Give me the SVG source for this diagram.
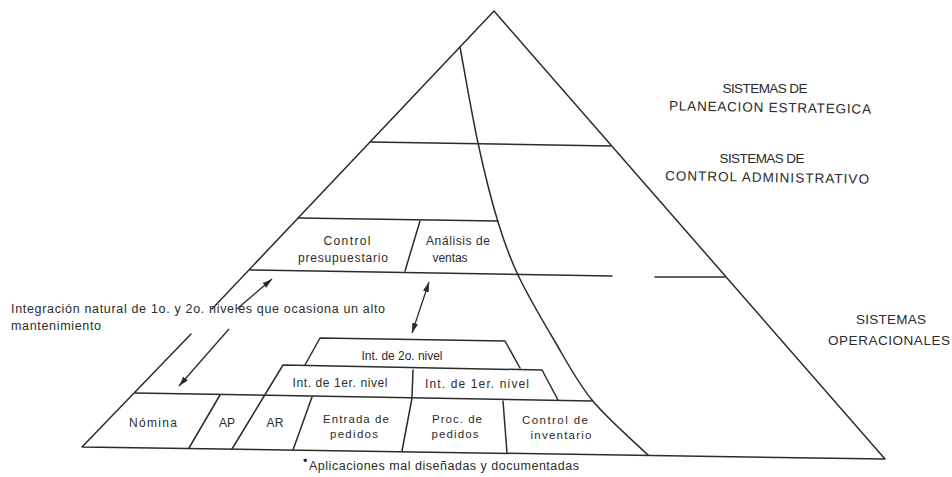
<svg xmlns="http://www.w3.org/2000/svg" width="952" height="477" viewBox="0 0 952 477">
  <defs>
    <style>
      .ln{fill:none;stroke:#2b2b2b;stroke-width:1.5;stroke-linejoin:round;stroke-linecap:round}
      .ar{fill:none;stroke:#2b2b2b;stroke-width:1.3}
      .t{font-family:"Liberation Sans",Arial,sans-serif;font-size:12px;fill:#2b2b2b;text-anchor:middle}
      .t2{font-family:"Liberation Sans",Arial,sans-serif;font-size:11.5px;fill:#2b2b2b;text-anchor:middle}
      .ts{font-family:"Liberation Sans",Arial,sans-serif;font-size:12.5px;fill:#2b2b2b;text-anchor:start}
      .cap{font-family:"Liberation Sans",Arial,sans-serif;font-size:13.5px;fill:#2b2b2b;text-anchor:middle}
    </style>
    <marker id="head" viewBox="0 0 10 6" refX="10" refY="3" markerWidth="10" markerHeight="6" markerUnits="userSpaceOnUse" orient="auto-start-reverse">
      <path d="M0,0 L10,3 L0,6 z" fill="#2b2b2b"/>
    </marker>
  </defs>
  <rect width="952" height="477" fill="#ffffff"/>

  <!-- pyramid frame: outline, level lines and the curved split -->
  <g id="pyramid">
    <path class="ln" d="M212,309 L494,11 L885,459 L82,447 L191,334"/>
    <path class="ln" d="M371,142 L611,146"/>
    <path class="ln" d="M298,218 L498,221"/>
    <path class="ln" d="M250,270 L612,276 M655,277 L725,277"/>
    <path class="ln" d="M460,47 C463,63 471.7,113.8 478,143 C484.3,172.2 491.3,200 498,222 C504.7,244 508.7,255.3 518,275 C527.3,294.7 541.7,319.2 554,340 C566.3,360.8 576.3,380.8 592,400 C607.7,419.2 638.7,445.8 648,455"/>
  </g>

  <!-- administrative control boxes -->
  <g id="control-presupuestario">
    <text class="t" x="347" y="245" textLength="47">Control</text>
    <text class="t" x="343" y="262" textLength="90">presupuestario</text>
  </g>
  <g id="analisis-ventas">
    <path class="ln" d="M420,221 L405,271"/>
    <text class="t" x="458" y="245" textLength="64">Análisis de</text>
    <text class="t" x="450" y="262" textLength="35">ventas</text>
  </g>

  <!-- interface layers -->
  <g id="int-2o">
    <path class="ln" d="M305,365 L320,338 L505,341 L520,368"/>
    <text class="t" x="402" y="360" textLength="81">Int. de 2o. nivel</text>
  </g>
  <g id="int-1er-a">
    <path class="ln" d="M232,449 L283,365 L542,370 L558,400"/>
    <text class="t" x="340" y="387" textLength="95">Int. de 1er. nivel</text>
  </g>
  <g id="int-1er-b">
    <path class="ln" d="M413,370 L412,397"/>
    <text class="t" x="477" y="388" textLength="104">Int. de 1er. nivel</text>
  </g>

  <!-- operational applications -->
  <g id="aplicaciones">
    <path class="ln" d="M135,393 L592,401"/>
  </g>
  <g id="nomina">
    <path class="ln" d="M220,395 L189,448"/>
    <text class="t" x="153" y="427" textLength="48">Nómina</text>
  </g>
  <g id="ap">
    <text class="t" x="227" y="427" textLength="16">AP</text>
  </g>
  <g id="ar">
    <path class="ln" d="M312,397 L293,450"/>
    <text class="t" x="275" y="427" textLength="17">AR</text>
  </g>
  <g id="entrada-pedidos">
    <path class="ln" d="M412,398 L402,451"/>
    <text class="t2" x="356" y="423" textLength="66">Entrada de</text>
    <text class="t2" x="354" y="437.5" textLength="48">pedidos</text>
  </g>
  <g id="proc-pedidos">
    <path class="ln" d="M503,401 L507,453"/>
    <text class="t2" x="457" y="423" textLength="50">Proc. de</text>
    <text class="t2" x="455" y="437.5" textLength="47">pedidos</text>
  </g>
  <g id="control-inventario">
    <text class="t2" x="555" y="424" textLength="66">Control de</text>
    <text class="t2" x="561" y="438.5" textLength="61">inventario</text>
  </g>

  <!-- notes -->
  <g id="nota-integracion">
    <text class="ts" x="11" y="313" textLength="374">Integración natural de 1o. y 2o. niveles que ocasiona un alto</text>
    <text class="ts" x="11" y="330" textLength="90">mantenimiento</text>
  </g>
  <g id="nota-aplicaciones">
    <text class="ts" x="303" y="465" font-size="7">•</text>
    <text class="ts" x="309" y="470" font-size="12" textLength="270">Aplicaciones mal diseñadas y documentadas</text>
  </g>

  <!-- level labels -->
  <g id="nivel-estrategico">
    <text class="cap" x="765" y="93" textLength="85">SISTEMAS DE</text>
    <text class="cap" x="770" y="112" textLength="202" transform="rotate(1 770 108)">PLANEACION ESTRATEGICA</text>
  </g>
  <g id="nivel-administrativo">
    <text class="cap" x="762" y="163" textLength="85">SISTEMAS DE</text>
    <text class="cap" x="767" y="182" textLength="204" transform="rotate(1 767 178)">CONTROL ADMINISTRATIVO</text>
  </g>
  <g id="nivel-operacional">
    <text class="cap" x="891" y="324" textLength="70">SISTEMAS</text>
    <text class="cap" x="889" y="345" textLength="122">OPERACIONALES</text>
  </g>

  <!-- connectors -->
  <g id="connectors">
    <line class="ar" x1="237" y1="309" x2="272" y2="279" marker-end="url(#head)"/>
    <line class="ar" x1="229" y1="329" x2="179" y2="386" marker-end="url(#head)"/>
    <line class="ar" x1="412" y1="333" x2="429" y2="282" marker-start="url(#head)" marker-end="url(#head)"/>
  </g>
</svg>
